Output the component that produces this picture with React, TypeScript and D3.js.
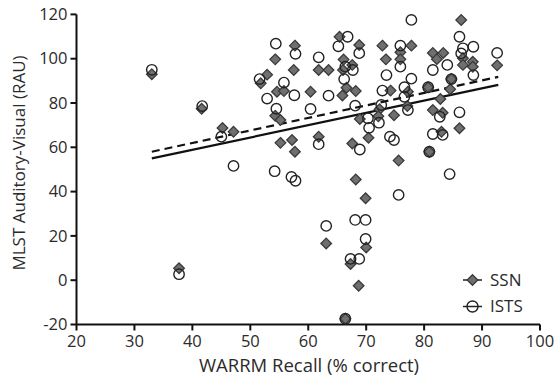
import React from "react";
import * as d3 from "d3";

const xTicks = [20, 30, 40, 50, 60, 70, 80, 90, 100];
const yTicks = [-20, 0, 20, 40, 60, 80, 100, 120];

const ssnX = [33, 37.7, 41.6, 45.2, 47.1, 51.8, 52.9, 54.3, 54.6, 55.8, 54.3, 55.2, 55.2, 57.2, 57.7, 57.7, 57.5, 60.4, 61.8, 63.5, 61.8, 63.1, 65.4, 66.1, 66, 67.6, 66.6, 68.2, 65.9, 68.8, 68.9, 67.6, 70.4, 68.2, 69.9, 70, 67.3, 68.7, 66.4, 72.8, 73.4, 72.3, 72.1, 74.8, 74.2, 75.9, 75.9, 77.8, 77.2, 77.1, 75.6, 81.5, 83.3, 82.2, 80.7, 82.8, 81.5, 83.2, 83, 80.9, 84.7, 84.5, 86.4, 86.7, 86.7, 88.4, 88.4, 86.1, 92.6];
const ssnY = [93, 5.4, 77.4, 68.7, 67, 88.9, 92.8, 99.7, 85.1, 85.4, 74.2, 72.3, 62, 63.3, 58, 105.9, 94.9, 85.1, 94.9, 94.9, 64.8, 16.6, 109.9, 99.6, 94.9, 97.2, 86.9, 85.4, 83.4, 106.2, 72.8, 61.7, 64.3, 45.5, 37, 14.8, 7.3, -2.5, -17.4, 105.9, 99.7, 77.2, 74, 74.5, 85.6, 102.9, 99.7, 105.9, 85.1, 78.6, 54, 102.6, 102.6, 99.8, 87.1, 81.8, 76.8, 75.6, 67, 58, 90.8, 86.2, 117.5, 100.2, 97.2, 98.6, 96.4, 68.6, 97];

const istsX = [33, 37.7, 41.7, 45, 47.1, 51.6, 52.9, 54.4, 54.5, 54.2, 55.8, 57.6, 57.8, 57.1, 57.8, 60.4, 61.8, 61.8, 63.5, 63.1, 65.2, 66.8, 66.2, 67.7, 68.8, 68.1, 70.3, 70.5, 68.9, 68.1, 69.9, 69.9, 67.3, 68.8, 66.4, 72.6, 72.2, 72.8, 73.5, 75.9, 75.9, 76.6, 76.6, 77.2, 77.8, 77.8, 74.1, 74.8, 75.6, 80.7, 81.5, 84, 82.7, 81.5, 83.2, 80.9, 84.4, 86.1, 86.1, 86.7, 86.4, 88.5, 88.5, 92.6, 66.4, 84.7];
const istsY = [95, 2.7, 78.6, 64.8, 51.6, 90.8, 82, 106.8, 77.4, 49.2, 89.2, 83.5, 102.2, 46.6, 44.9, 77.3, 100.6, 61.4, 83.3, 24.5, 105.6, 109.9, 90.8, 94.9, 102.5, 78.8, 73.1, 68.8, 59, 27.2, 27.2, 18.6, 9.6, 9.6, -17.4, 79.1, 71.1, 85.6, 92.6, 105.9, 96.4, 87.1, 82.8, 76.8, 91, 117.5, 64.8, 63.3, 38.5, 87.1, 94.9, 97.2, 73.8, 66, 65.6, 58, 47.9, 75.8, 109.9, 104.7, 102.4, 105.4, 92.6, 102.6, 96.4, 90.8];

// regression lines: [x0, x1], [y0, y1]
const fitX = [33, 92.8];
const solidFitY = [55, 88.2];
const dashedFitY = [58, 91.8];

const legendLabels = ["SSN", "ISTS"];
const xLabel = "WARRM Recall (% correct)";
const yLabel = "MLST Auditory-Visual (RAU)";

const W = 558;
const H = 377;
const FONT = "'Open Sans', 'Liberation Sans', sans-serif";
const TXT = "#2b2b2b";

export default function App() {
  const x = d3.scaleLinear().domain([20, 100]).range([76.5, 540]);
  const y = d3.scaleLinear().domain([-20, 120]).range([324.5, 14.4]);
  const line = d3.line<[number, number]>().x((d) => x(d[0])).y((d) => y(d[1]));
  const solidPts: [number, number][] = fitX.map((v, i) => [v, solidFitY[i]]);
  const dashedPts: [number, number][] = fitX.map((v, i) => [v, dashedFitY[i]]);
  const diamond = (cx: number, cy: number, r = 5.3) =>
    `M${cx},${cy - r}L${cx + r},${cy}L${cx},${cy + r}L${cx - r},${cy}Z`;

  return (
    <svg width={W} height={H} style={{ position: "absolute", left: 0, top: 0, background: "#fff" }} fontFamily={FONT}>
      {/* axes */}
      <line x1={x(20)} x2={x(20)} y1={y(120)} y2={y(-20)} stroke="#111" strokeWidth={2} />
      <line x1={x(20)} x2={x(100)} y1={y(-20)} y2={y(-20)} stroke="#111" strokeWidth={2} />
      {yTicks.map((t) => (
        <g key={"y" + t}>
          <line x1={x(20) - 6} x2={x(20)} y1={y(t)} y2={y(t)} stroke="#111" strokeWidth={2} />
          <text x={x(20) - 9} y={y(t)} dy="0.35em" textAnchor="end" fontSize={16.5} fill={TXT}>
            {t}
          </text>
        </g>
      ))}
      {xTicks.map((t) => (
        <g key={"x" + t}>
          <line x1={x(t)} x2={x(t)} y1={y(-20)} y2={y(-20) + 6} stroke="#111" strokeWidth={2} />
          <text x={x(t)} y={y(-20) + 22} textAnchor="middle" fontSize={16.5} fill={TXT}>
            {t}
          </text>
        </g>
      ))}
      <text x={309} y={372} textAnchor="middle" fontSize={18.5} fill={TXT}>
        {xLabel}
      </text>
      <text
        transform={`translate(25,163) rotate(-90)`}
        textAnchor="middle"
        fontSize={17}
        fill={TXT}
      >
        {yLabel}
      </text>

      {/* fit lines */}
      <path d={line(solidPts) || ""} stroke="#111" strokeWidth={2.2} fill="none" />
      <path d={line(dashedPts) || ""} stroke="#111" strokeWidth={2.2} fill="none" strokeDasharray="8,5" />

      {/* SSN diamonds */}
      {ssnX.map((v, i) => (
        <path key={"s" + i} d={diamond(x(v), y(ssnY[i]))} fill="#6f6f6f" stroke="#3a3a3a" strokeWidth={1.3} />
      ))}
      {/* ISTS circles */}
      {istsX.map((v, i) => (
        <circle key={"c" + i} cx={x(v)} cy={y(istsY[i])} r={5.2} fill="none" stroke="#222" strokeWidth={1.4} />
      ))}

      {/* legend */}
      <g>
        <line x1={463} x2={482} y1={280} y2={280} stroke="#222" strokeWidth={1.5} />
        <path d={diamond(472.5, 280)} fill="#6f6f6f" stroke="#3a3a3a" strokeWidth={1.3} />
        <text x={490} y={280} dy="0.35em" fontSize={17} fill={TXT}>
          {legendLabels[0]}
        </text>
        <line x1={463} x2={482} y1={306.5} y2={306.5} stroke="#222" strokeWidth={1.5} />
        <circle cx={472.5} cy={306.5} r={5.5} fill="none" stroke="#222" strokeWidth={1.4} />
        <text x={490} y={306.5} dy="0.35em" fontSize={17} fill={TXT}>
          {legendLabels[1]}
        </text>
      </g>
    </svg>
  );
}
